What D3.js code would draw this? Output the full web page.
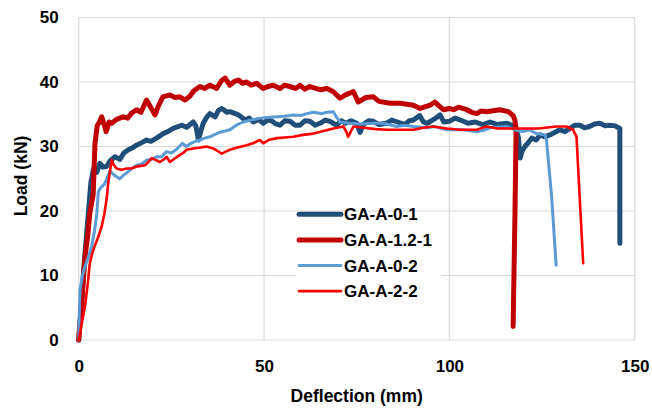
<!DOCTYPE html>
<html>
<head>
<meta charset="utf-8">
<script src="https://cdn.jsdelivr.net/npm/d3@7/dist/d3.min.js"></script>
<style>
  html, body { margin: 0; padding: 0; background: #fff; }
  svg { display: block; }
  text { font-family: "Liberation Sans", Arial, sans-serif; font-weight: bold; fill: #000; }
</style>
</head>
<body>
<svg id="chart" width="652" height="410"></svg>
<script>
// ---- data ----
const seriesNames = ["GA-A-0-1", "GA-A-1.2-1", "GA-A-0-2", "GA-A-2-2"];
const xTicks = [0, 50, 100, 150];
const yTicks = [0, 10, 20, 30, 40, 50];

// [deflection (mm), load (kN)]
const gaA01 = [[0,0],[0.8,6],[1.5,12],[2.5,19],[3.3,24.5],[4.0,26.5],[4.9,26.0],[5.7,27.4],[6.5,26.8],[7.5,26.9],[8.5,27.8],[9.8,28.4],[11.1,28.0],[12.2,29.0],[13.4,29.5],[14.5,29.8],[15.6,30.2],[17,30.6],[18.3,31.0],[19.5,30.8],[21.0,31.3],[22.8,32.0],[24,32.3],[25.5,32.8],[27.8,33.3],[29.1,33.0],[30.9,33.8],[31.6,33.2],[32.3,31.0],[33.0,32.5],[33.6,33.6],[34.5,34.5],[35.4,35.1],[36.8,34.6],[37.7,35.6],[38.6,35.9],[40.0,35.3],[40.8,35.4],[43.1,34.9],[44.9,34.1],[46.0,34.4],[47.1,33.8],[48.5,34.2],[49.8,33.6],[51,34.1],[52,34.0],[53.2,33.5],[54.3,33.3],[55.6,34.0],[57,33.9],[58.4,33.3],[59.7,33.3],[61,34.0],[62.4,33.9],[63.8,33.3],[65.1,33.6],[66.5,34.1],[67.8,33.9],[69.6,33.3],[70.8,34.0],[72,33.6],[73.5,34.0],[75,33.6],[75.9,32.2],[76.8,33.4],[78.2,34.0],[79.5,33.9],[81,33.4],[83,33.6],[84.5,34.1],[86,33.8],[88,33.4],[89.2,34.0],[90.3,34.1],[92,34.8],[93,33.8],[94,33.6],[95.8,34.2],[97.5,34.9],[98.5,33.8],[100,33.9],[101.5,34.4],[103,34.1],[105,33.6],[107,33.8],[109,33.4],[111,33.8],[113,33.4],[115.5,33.6],[117.7,33.1],[118.6,31.5],[119.1,28.2],[119.6,29.3],[120.4,30.0],[121.3,30.6],[122.2,31.3],[123.4,31.0],[124.5,31.8],[125.8,31.5],[127.1,31.8],[128.5,32.2],[129.8,32.6],[131.2,32.3],[132.5,32.8],[133.9,33.3],[135.2,33.3],[136.5,32.9],[137.8,33.1],[139.2,33.5],[140.6,33.6],[142,33.2],[143.3,33.3],[144.7,33.2],[146.0,32.8],[146.0,15.0]];

const gaA121 = [[0,0],[0.9,6.5],[1.7,12.9],[2.5,16.5],[3.0,19.7],[3.9,22.5],[4.4,30.5],[5.0,33.2],[5.6,33.8],[6.2,34.6],[6.8,33.5],[7.4,32.3],[8.2,33.8],[8.9,33.6],[10.2,34.2],[12.0,34.6],[13.2,34.4],[14.3,35.2],[15.6,35.7],[16.8,35.3],[18.3,37.2],[19.5,36.0],[20.6,34.9],[21.5,36.3],[22.7,37.7],[24.6,38.0],[26,37.6],[27.3,37.7],[28.7,37.2],[30.0,37.8],[31.0,38.6],[32.7,39.3],[34.0,39.0],[35.4,39.5],[37.2,39.0],[38.5,40.2],[39.5,40.6],[40.8,39.5],[42,40.1],[43.1,40.3],[44.2,39.8],[45.3,40.0],[46.5,39.5],[48.0,39.8],[49.8,39.0],[51,39.3],[52.5,39.5],[54.3,39.0],[55.5,39.5],[57.0,39.3],[58.5,39.0],[59.7,39.5],[61,38.9],[62.4,39.3],[65.1,38.8],[67,39.0],[68.7,38.5],[70.5,37.5],[72,38.0],[74.1,38.5],[75.4,36.9],[77.5,37.6],[79.5,37.7],[81,37.0],[84.0,36.7],[86.7,36.7],[90.3,36.4],[92.1,35.9],[94.8,36.4],[96.1,36.9],[97.2,36.3],[98.4,35.7],[100,35.9],[101.1,35.7],[102.5,36.1],[104.7,35.7],[106,35.3],[107.4,35.1],[108.5,35.5],[110.1,35.4],[113.6,35.7],[115.9,35.4],[117.2,34.8],[117.7,34.0],[118.0,32.6],[117.7,19.6],[117.2,2.1]];

const gaA02 = [[0,0],[0.15,4],[0.35,7.7],[1.0,10],[1.7,11.4],[2.6,12.8],[3.5,14.5],[4.3,17],[4.9,19.7],[5.3,23],[5.8,23.5],[7.0,24.2],[8.4,26.2],[9.5,25.6],[11.1,25.0],[12.2,25.6],[13.4,26.1],[14.5,26.7],[15.6,27.1],[17,27.3],[18.3,27.9],[19.6,28.0],[21.0,28.4],[22.3,28.4],[23.7,29.2],[25,29.0],[26.5,29.6],[28.0,30.5],[29.0,30.0],[30,30.4],[31.5,30.8],[32.7,31.0],[34,31.3],[35.4,31.5],[36.5,31.8],[38,32.2],[39.5,32.4],[40.8,32.6],[42.5,33.3],[44.4,33.8],[46.5,34.1],[48.9,34.4],[51,34.5],[53.4,34.6],[55.5,34.7],[57.9,34.9],[60,34.8],[61.5,35.1],[63.3,35.3],[65.5,35.1],[67,35.3],[68.7,35.4],[69.6,34.5],[70.5,33.8],[73,33.6],[76,33.5],[79.5,33.6],[82.2,33.6],[85.8,33.1],[88,33.3],[90.3,33.1],[94,32.9],[96,33.1],[99.3,32.6],[103.8,32.6],[107.4,32.3],[109.2,32.5],[111,32.9],[115.5,33.1],[117.5,32.6],[119.9,32.3],[121.5,32.6],[123.5,32.0],[125.8,31.8],[126.2,31.0],[127.6,22.2],[128.8,11.6]];

const gaA22 = [[0,0],[0.8,2.5],[1.7,5.2],[2.4,8.5],[3.0,11.9],[3.7,13.5],[4.4,14.7],[5.3,16.0],[6.2,17.6],[6.9,19.5],[7.5,21.7],[8.0,24.5],[8.4,26.0],[8.9,27.9],[9.4,27.2],[10.2,26.6],[11.5,26.4],[13,26.6],[14.3,26.6],[15.6,26.9],[16.8,27.0],[17.9,27.1],[18.8,27.6],[19.7,28.2],[20.8,27.9],[21.9,27.6],[23.0,28.0],[23.7,28.4],[24.6,27.6],[25.8,28.1],[27.3,28.7],[28.2,29.0],[29.1,29.5],[30.9,29.7],[32.5,29.8],[34.5,30.0],[36.3,29.7],[37.5,29.3],[38.6,28.9],[39.7,29.2],[40.8,29.5],[42.5,29.8],[45.3,30.2],[47.0,30.5],[48.9,31.0],[49.8,30.5],[51.2,31.0],[53.4,31.3],[55.5,31.4],[57.9,31.5],[60.5,31.8],[63.3,32.0],[66,32.4],[68.7,32.8],[71.4,33.1],[72.1,32.4],[72.7,31.5],[73.3,32.2],[74.1,33.1],[77,32.9],[80,32.7],[83.1,32.6],[86,32.6],[90.3,32.6],[93,32.9],[95.7,33.1],[99.3,32.8],[103,32.6],[105,32.6],[107.4,32.6],[110,33.1],[113,32.8],[116,32.8],[119.9,32.8],[124,32.8],[128.9,33.1],[131.6,33.1],[133.4,32.6],[134.3,31.5],[136.1,11.9]];

const seriesData = [gaA01, gaA121, gaA02, gaA22];
const seriesColors = ["#1F4E79", "#C00000", "#5B9BD5", "#FF0000"];
const seriesWidths = [5, 5, 3, 2.6];

// ---- layout ----
const svg = d3.select("#chart");
const plotL = 78.7, plotR = 634.7, plotT = 17.5, plotB = 340;

const x = d3.scaleLinear().domain([0, 150]).range([plotL, plotR]);
const y = d3.scaleLinear().domain([0, 50]).range([plotB, plotT]);

// gridlines
const grid = svg.append("g");
grid.selectAll("line.h").data(yTicks).join("line").attr("class", "h")
  .attr("x1", plotL).attr("x2", plotR)
  .attr("y1", d => y(d)).attr("y2", d => y(d))
  .attr("stroke", "#D9D9D9").attr("stroke-width", 1.2);
grid.selectAll("line.v").data(xTicks).join("line").attr("class", "v")
  .attr("y1", plotT).attr("y2", plotB)
  .attr("x1", d => x(d)).attr("x2", d => x(d))
  .attr("stroke", "#D9D9D9").attr("stroke-width", 1.2);

// axes (text only)
const xAxis = d3.axisBottom(x).tickValues(xTicks).tickSize(0).tickPadding(20);
const gx = svg.append("g").attr("transform", `translate(0,${plotB})`).call(xAxis);
gx.select(".domain").remove();
gx.selectAll("text").style("font-size", "17px").style("font-family", "'Liberation Sans', Arial, sans-serif").style("font-weight", "bold").attr("fill", "#000");

const yAxis = d3.axisLeft(y).tickValues(yTicks).tickSize(0).tickPadding(20);
const gy = svg.append("g").attr("transform", `translate(${plotL},0)`).call(yAxis);
gy.select(".domain").remove();
gy.selectAll("text").style("font-size", "17px").style("font-family", "'Liberation Sans', Arial, sans-serif").style("font-weight", "bold").attr("fill", "#000");

// axis titles
svg.append("text").attr("x", (plotL + plotR) / 2).attr("y", 402)
  .attr("text-anchor", "middle").style("font-size", "17.5px").text("Deflection (mm)");
svg.append("text").attr("transform", `translate(27,176) rotate(-90)`)
  .attr("text-anchor", "middle").style("font-size", "17.5px").text("Load (kN)");

// legend background
const legX = 299, legY0 = 214.3, legDy = 25.6;
svg.append("rect").attr("x", 296).attr("y", 212.5).attr("width", 146).attr("height", 92).attr("fill", "#fff");

// lines
const line = d3.line().x(d => x(d[0])).y(d => y(d[1]));
svg.append("g").selectAll("path").data(seriesData).join("path")
  .attr("d", line)
  .attr("fill", "none")
  .attr("stroke", (d, i) => seriesColors[i])
  .attr("stroke-width", (d, i) => seriesWidths[i])
  .attr("stroke-linejoin", "round")
  .attr("stroke-linecap", "round");

// legend
const leg = svg.append("g");
seriesNames.forEach((n, i) => {
  const yy = legY0 + i * legDy;
  leg.append("line").attr("x1", legX).attr("x2", legX + 42).attr("y1", yy).attr("y2", yy)
    .attr("stroke", seriesColors[i]).attr("stroke-width", seriesWidths[i]).attr("stroke-linecap", "round");
  leg.append("text").attr("x", legX + 45).attr("y", yy).attr("dy", "0.36em")
    .style("font-size", "17px").text(n);
});
</script>
</body>
</html>
